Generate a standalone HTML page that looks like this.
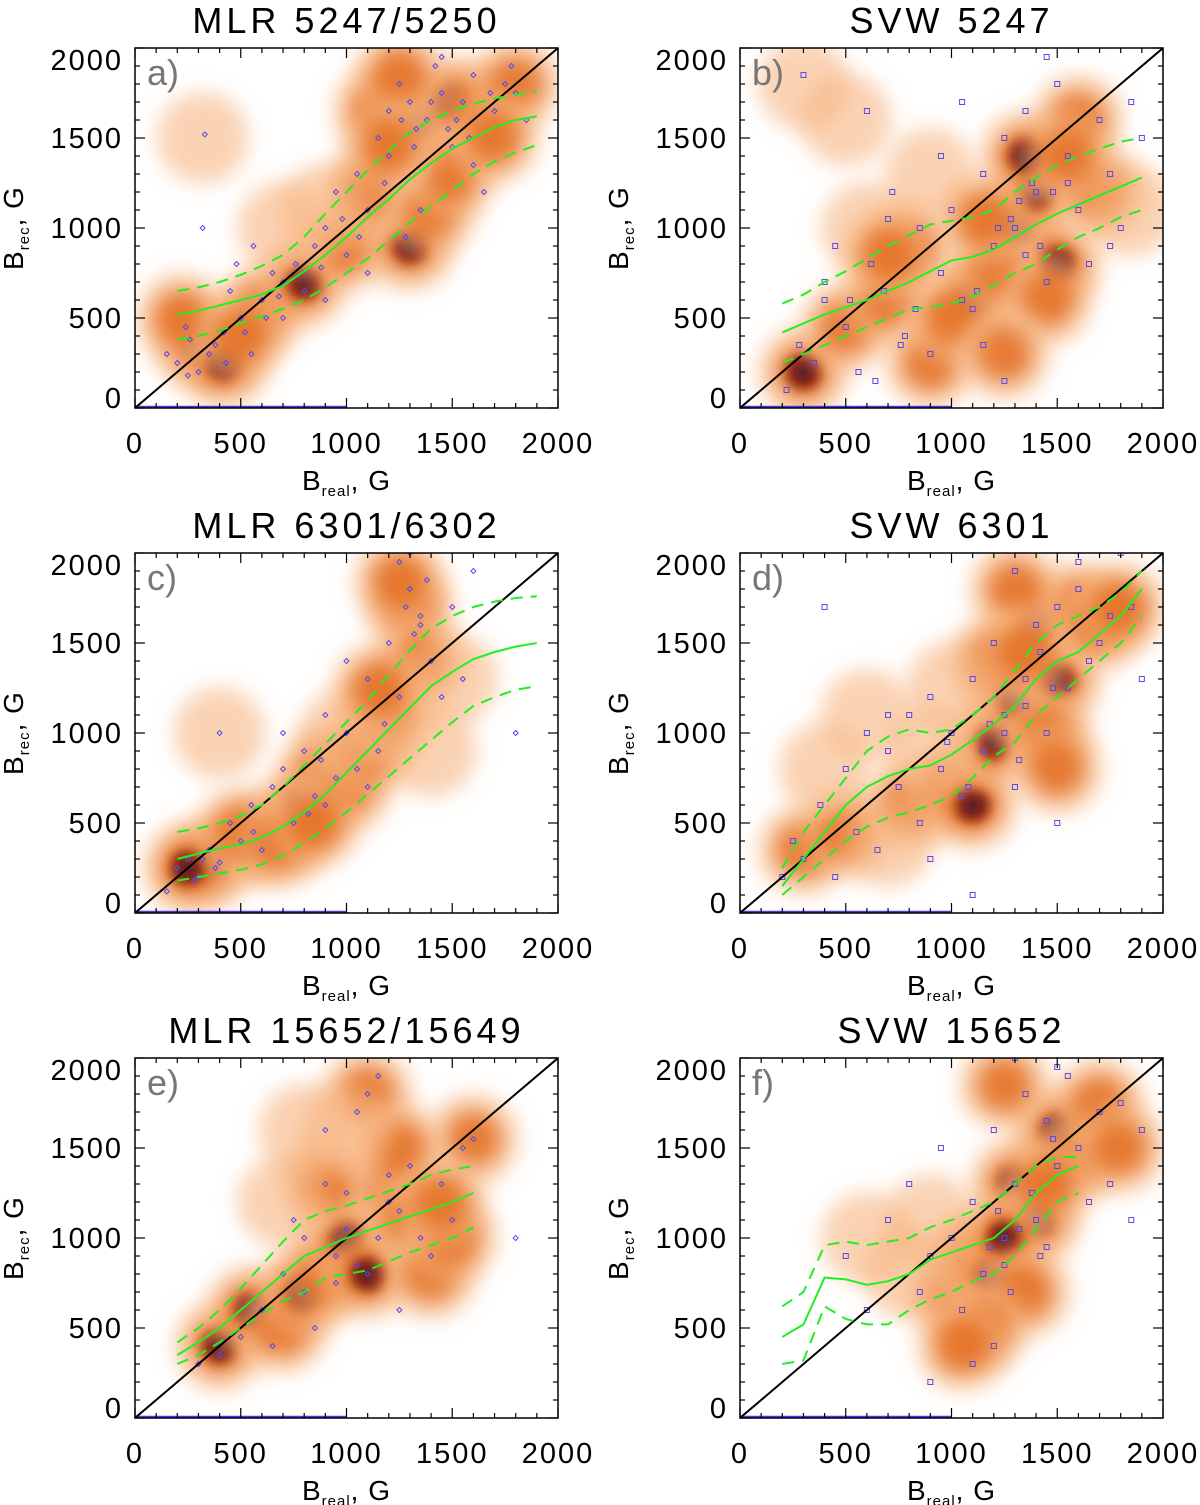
<!DOCTYPE html>
<html><head><meta charset="utf-8">
<style>
html,body{margin:0;padding:0;background:#fff;}
svg{display:block;font-family:"Liberation Sans",sans-serif;}
</style></head>
<body>
<svg id="chart" width="1200" height="1505" viewBox="0 0 1200 1505" xmlns="http://www.w3.org/2000/svg">
<defs>
<filter id="blur" x="-50%" y="-50%" width="200%" height="200%"><feGaussianBlur stdDeviation="10"/></filter>
<filter id="blur2" x="-50%" y="-50%" width="200%" height="200%"><feGaussianBlur stdDeviation="5"/></filter>
</defs>
</svg>
<script>
// ---- shared ----
const xsFull = [200,300,400,500,600,700,800,900,1000,1100,1200,1300,1400,1500,1600,1700,1800,1900];
const xsShort = [200,300,400,500,600,700,800,900,1000,1100,1200,1300,1400,1500,1600];
const tickVals = [0,500,1000,1500,2000];
const titles = ["MLR 5247/5250","SVW 5247","MLR 6301/6302","SVW 6301","MLR 15652/15649","SVW 15652"];
const letters = ["a)","b)","c)","d)","e)","f)"];

// ---- panel a ----
const medA = [520,540,570,600,630,680,760,850,950,1060,1160,1270,1360,1440,1500,1560,1600,1620];
const upA  = [650,670,700,740,790,850,950,1080,1200,1320,1430,1530,1600,1650,1690,1720,1740,1760];
const loA  = [380,400,430,470,510,550,600,670,750,830,930,1030,1120,1210,1300,1370,1420,1460];
const blobXA = [300,420,600,800,1000,1300,1350,1500,1150,1600,1800,320,1100,1400,700,220,1500,900,1250,500,1200,1700];
const blobYA = [350,250,550,700,900,900,1600,1700,1650,1650,1800,1500,1200,1100,1000,500,1300,1100,1850,400,1450,1500];
const blobWA = [3,3,2,3,2,3,3,3,2,2,2,1,2,2,1,2,2,1,2,2,2,2];
const ptXA = [150,200,240,260,300,330,380,420,450,500,550,600,650,700,760,800,850,900,950,1000,1050,1100,1150,1200,1250,1300,1330,1380,1420,1450,1500,1550,1600,1650,1700,1750,1800,1850,320,1200,1280,1350,1450,900,700,1600,1100,480,560,250,350,430,520,620,680,880,980,1060,1180,1260,1320,1400,1480,1520,1580,1680,1780];
const ptYA = [300,250,450,380,200,1520,350,420,650,500,300,600,750,700,800,650,900,1000,1200,850,1300,1100,1500,1650,1800,1700,1550,1600,1900,1750,1450,1700,1350,1200,1650,1800,1750,1600,1000,1400,950,1100,1950,600,500,1850,750,800,900,180,300,250,420,500,620,780,1050,950,1250,1600,1450,1700,1550,1600,1500,1750,1900];

// ---- panel b ----
const medB = [420,470,520,560,600,650,700,760,820,840,880,950,1020,1080,1130,1180,1230,1280];
const upB  = [580,630,700,760,830,900,960,1020,1040,1060,1100,1200,1280,1350,1400,1440,1480,1500];
const loB  = [250,300,350,400,450,500,550,560,580,620,680,750,800,880,950,1000,1060,1100];
const blobXB = [300,500,700,900,1100,1300,1400,1500,1600,1200,1350,1000,800,300,600,1700,1450,1850,1250,900,500,1550,1150,700];
const blobYB = [200,450,600,250,600,1000,1200,800,1600,750,1400,500,900,1800,1000,1200,600,1100,300,1300,1600,1400,1050,850];
const blobWB = [3,2,2,2,3,3,3,3,2,2,3,2,2,1,1,2,2,1,2,1,1,2,2,2];
const ptXB = [220,280,350,400,450,500,560,620,680,720,780,850,900,950,1000,1050,1100,1150,1200,1250,1300,1350,1400,1450,1500,1550,1600,1650,1700,1750,1800,1850,1900,300,600,950,1150,1350,1550,1250,700,1050,400,1450,1750,1320,1380,1420,1280,1480,1220,1120,830,760,520,640];
const ptYB = [100,350,250,600,900,450,200,800,650,1200,400,1000,300,750,1100,600,550,1300,900,1500,1000,1650,1200,700,1800,1400,1100,800,1600,1300,1000,1700,1500,1850,1650,1400,350,850,1250,150,1050,1700,700,1950,900,1150,1250,900,1050,1200,1000,650,550,350,600,150];

// ---- panel c ----
const medC = [300,330,360,380,420,480,560,660,780,900,1020,1140,1260,1340,1410,1450,1480,1500];
const upC  = [450,470,500,540,600,700,820,940,1060,1180,1320,1460,1580,1650,1700,1730,1750,1760];
const loC  = [180,200,220,240,270,320,390,470,560,660,760,860,960,1060,1150,1200,1240,1260];
const blobXC = [350,250,600,500,800,900,1000,1100,1300,1350,1200,1500,700,1400,1000,400,1250,850,1150];
const blobYC = [280,250,400,450,600,800,700,900,1700,1400,1100,1300,400,900,1000,1000,1850,500,1250];
const blobWC = [3,3,3,2,3,2,2,2,2,2,2,1,2,1,1,1,2,2,2];
const ptXC = [150,200,250,300,350,400,450,500,550,600,650,700,750,800,850,900,950,1000,1050,1100,1150,1200,1250,1300,1350,1400,1450,1500,1550,1600,1300,1250,1350,900,700,1100,400,1800,1000,320,380,280,560,820,880,1180,1280,1380,1320];
const ptYC = [120,250,300,200,350,280,500,400,600,350,700,800,500,900,650,1100,750,1000,800,1300,900,1500,1200,1800,1600,1400,1200,1700,1300,1900,2000,1950,1650,600,1000,700,1000,1000,1400,300,250,180,450,550,850,1050,1700,1850,1550];

// ---- panel d ----
const medD = [150,300,450,600,700,760,800,820,880,960,1050,1150,1300,1400,1450,1550,1650,1800];
const upD  = [250,450,600,750,900,980,1020,1000,1020,1100,1200,1350,1500,1600,1650,1700,1780,1900];
const loD  = [100,200,300,400,480,530,560,600,650,750,870,950,1100,1200,1300,1400,1500,1650];
const blobXD = [300,500,800,1000,1100,1200,1300,1400,1500,1600,1700,1300,1450,900,600,1200,1500,1800,1000,700,400,1350];
const blobYD = [350,450,600,700,600,950,1200,1600,1300,1700,1600,1800,1000,900,1100,1400,800,1700,1250,400,800,1450];
const blobWD = [2,2,2,2,3,3,3,3,3,2,2,2,2,1,1,2,2,2,1,1,1,2];
const ptXD = [200,250,300,380,450,500,550,600,650,700,750,800,850,900,950,1000,1050,1100,1150,1200,1250,1300,1350,1400,1450,1500,1550,1600,1650,1700,1750,1800,1850,1900,400,1300,1500,900,700,1100,1600,1250,1350,1420,1480,1320,1180,1080,980];
const ptYD = [200,400,300,600,200,800,450,1000,350,900,700,1100,500,1200,800,1000,650,1300,900,1500,1100,1900,1300,1600,1000,1700,1250,1800,1400,1500,1650,2000,1700,1300,1700,700,500,300,1100,100,1950,1000,1150,1450,1250,850,1050,700,950];

// ---- panel e ----
const medE = [350,420,500,600,700,800,900,950,1000,1040,1080,1120,1160,1200,1250];
const upE  = [420,500,600,720,850,980,1100,1150,1180,1220,1260,1300,1350,1380,1400];
const loE  = [300,350,420,500,580,650,700,780,800,820,870,920,960,1000,1060];
const blobXE = [400,550,700,800,900,1000,1100,1200,1300,1400,1500,1600,1100,900,800,1250,1450,1000,700];
const blobYE = [400,600,500,700,800,1000,800,1300,1100,800,1000,1550,1800,1300,1600,1500,1200,1600,1200];
const blobWE = [3,3,2,3,2,3,3,2,2,2,2,2,2,2,1,2,2,1,1];
const ptXE = [300,400,500,600,650,700,750,800,850,900,950,1000,1050,1100,1150,1200,1250,1300,1350,1400,1450,1500,1550,1600,1100,900,1200,800,1000,1800,1050,1150,1250,950];
const ptYE = [300,350,450,600,400,800,1100,700,500,1300,900,1050,1700,800,1900,1200,600,1400,1000,900,1300,1100,1500,1550,1800,1600,1350,1000,1250,1000,850,1000,1150,750];

// ---- panel f ----
const medF = [450,520,780,770,740,760,800,880,920,960,1000,1100,1250,1350,1400];
const upF  = [620,700,960,980,960,980,1000,1060,1100,1150,1200,1300,1400,1450,1450];
const loF  = [300,320,620,550,520,520,600,660,700,760,800,900,1050,1200,1250];
const blobXF = [1000,1100,1200,1300,1400,1500,1250,1350,1600,1700,1150,1450,900,800,1050,1800,600,1250];
const blobYF = [700,900,800,1300,1100,1600,1000,700,1450,1750,500,1300,1100,800,400,1500,1000,1850];
const blobWF = [2,2,3,3,3,3,3,2,2,2,2,2,1,1,2,2,1,2];
const ptXF = [500,600,700,800,850,900,950,1000,1050,1100,1150,1200,1250,1300,1350,1400,1450,1500,1550,1600,1650,1700,1750,1800,1850,1900,1300,1200,1100,1450,900,1500,1250,1320,1380,1420,1280,1220,1480,1180];
const ptYF = [900,600,1100,1300,700,900,1500,1000,600,1200,800,1600,1000,1300,1800,1100,1650,1400,1900,1500,1200,1700,1300,1750,1100,1600,2000,400,300,950,200,1950,850,1050,1250,900,700,1150,1550,950];

const panels = [
 {col:0,row:0,med:medA,up:upA,lo:loA,xs:xsFull,bx:blobXA,by:blobYA,bw:blobWA,px:ptXA,py:ptYA,mk:'d'},
 {col:1,row:0,med:medB,up:upB,lo:loB,xs:xsFull,bx:blobXB,by:blobYB,bw:blobWB,px:ptXB,py:ptYB,mk:'s'},
 {col:0,row:1,med:medC,up:upC,lo:loC,xs:xsFull,bx:blobXC,by:blobYC,bw:blobWC,px:ptXC,py:ptYC,mk:'d'},
 {col:1,row:1,med:medD,up:upD,lo:loD,xs:xsFull,bx:blobXD,by:blobYD,bw:blobWD,px:ptXD,py:ptYD,mk:'s'},
 {col:0,row:2,med:medE,up:upE,lo:loE,xs:xsShort,bx:blobXE,by:blobYE,bw:blobWE,px:ptXE,py:ptYE,mk:'d'},
 {col:1,row:2,med:medF,up:upF,lo:loF,xs:xsShort,bx:blobXF,by:blobYF,bw:blobWF,px:ptXF,py:ptYF,mk:'s'}
];

const NS = "http://www.w3.org/2000/svg";
const svg = document.getElementById('chart');
function mk(tag, attrs, parent){
  const e = document.createElementNS(NS, tag);
  for (const k in attrs) e.setAttribute(k, attrs[k]);
  (parent||svg).appendChild(e);
  return e;
}

panels.forEach((p, i) => {
  const L = p.col ? 740 : 135, W = 423;
  const T = 48 + p.row * 505, H = 360;
  const X = v => L + v / 2000 * W;
  const Y = v => T + H - v / 2000 * H;
  const g = mk('g', {});
  
  
  const clipId = 'clip' + i;
  const cp = mk('clipPath', {id: clipId}, g);
  mk('rect', {x: L, y: T, width: W, height: H}, cp);
  const plot = mk('g', {'clip-path': 'url(#' + clipId + ')'}, g);

  // density
  const dens = mk('g', {}, plot);
  
  
  p.bx.forEach((bx, j) => {
    const w = p.bw[j];
    const c1 = mk('circle', {cx: X(bx), cy: Y(p.by[j]), r: 46, fill: '#f7b682', 'fill-opacity': 0.6, filter: 'url(#blur)'}, dens);
    
    
    if (w >= 2) mk('circle', {cx: X(bx), cy: Y(p.by[j]), r: 28, fill: '#e36d1c', 'fill-opacity': 0.85, filter: 'url(#blur)'}, dens);
    if (w >= 3) {
      mk('circle', {cx: X(bx), cy: Y(p.by[j]), r: 18, fill: '#8a2410', 'fill-opacity': 0.9, filter: 'url(#blur2)'}, dens);
      mk('circle', {cx: X(bx), cy: Y(p.by[j]), r: 8, fill: '#3c0a3a', 'fill-opacity': 0.8, filter: 'url(#blur2)'}, dens);
    }
  });

  // points
  const pts = mk('g', {}, plot);
  
  
  p.px.forEach((vx, j) => {
    const cx = X(vx), cy = Y(p.py[j]);
    let m;
    if (p.mk === 'd') m = mk('path', {d: `M${cx},${cy-2.5}L${cx+2.5},${cy}L${cx},${cy+2.5}L${cx-2.5},${cy}Z`, fill: 'none', stroke: '#5a4ae6', 'stroke-width': 1}, pts);
    else m = mk('rect', {x: cx-2.5, y: cy-2.5, width: 5, height: 5, fill: 'none', stroke: '#5a4ae6', 'stroke-width': 1}, pts);
    
    
  });
  const base = mk('line', {x1: X(0), y1: Y(0)-1, x2: X(1000), y2: Y(0)-1, stroke: '#4a3ae6', 'stroke-width': 2.5}, plot);
  
  

  // diagonal
  const diag = mk('line', {x1: X(0), y1: Y(0), x2: X(2000), y2: Y(2000), stroke: '#000', 'stroke-width': 2}, plot);
  
  

  // green lines
  [[p.med,'none','median-line'],[p.up,'12,8','upper-quartile-line'],[p.lo,'12,8','lower-quartile-line']].forEach(([arr,dash,name]) => {
    const d = arr.map((v,j) => (j?'L':'M') + X(p.xs[j]).toFixed(1) + ',' + Y(v).toFixed(1)).join('');
    const pl = mk('path', {d: d, fill: 'none', stroke: '#22ee22', 'stroke-width': 2, 'stroke-dasharray': dash}, plot);
    
    
  });

  // frame
  const fr = mk('rect', {x: L, y: T, width: W, height: H, fill: 'none', stroke: '#000', 'stroke-width': 1.5}, g);
  
  
  // ticks
  for (let v = 0; v <= 2000; v += 100) {
    const len = v % 500 === 0 ? 10 : 5;
    mk('line', {x1: X(v), y1: T+H, x2: X(v), y2: T+H-len, stroke: '#000', 'stroke-width': 1.2}, g);
    mk('line', {x1: X(v), y1: T, x2: X(v), y2: T+len, stroke: '#000', 'stroke-width': 1.2}, g);
    mk('line', {x1: L, y1: Y(v), x2: L+len, y2: Y(v), stroke: '#000', 'stroke-width': 1.2}, g);
    mk('line', {x1: L+W, y1: Y(v), x2: L+W-len, y2: Y(v), stroke: '#000', 'stroke-width': 1.2}, g);
  }
  tickVals.forEach(v => {
    const tx = mk('text', {x: X(v), y: T+H+45, 'font-size': 29, 'text-anchor': 'middle', fill: '#000', 'letter-spacing': 2}, g);
    tx.textContent = v;
    
    
    const ty = mk('text', {x: L-12, y: Y(v) + 10 - (v===0?10:0) + (v===2000?12:0), 'font-size': 29, 'text-anchor': 'end', fill: '#000', 'letter-spacing': 2}, g);
    ty.textContent = v;
    
    
  });
  // title
  const tt = mk('text', {x: L + W/2, y: T - 15, 'font-size': 36, 'text-anchor': 'middle', fill: '#000', 'letter-spacing': 4}, g);
  tt.textContent = titles[i];
  
  
  // letter
  const lt = mk('text', {x: L + 12, y: T + 37, 'font-size': 36, fill: '#777'}, g);
  lt.textContent = letters[i];
  
  
  // x label
  const xl = mk('text', {x: L + W/2, y: T + H + 82, 'font-size': 28, 'text-anchor': 'middle', fill: '#000', 'letter-spacing': 1}, g);
  xl.innerHTML = 'B<tspan font-size="15" dy="6">real</tspan><tspan dy="-6">,  G</tspan>';
  
  
  // y label
  const yl = mk('text', {x: 0, y: 0, 'font-size': 28, 'text-anchor': 'middle', fill: '#000', 'letter-spacing': 1, transform: `translate(${L-112},${T+H/2}) rotate(-90)`}, g);
  yl.innerHTML = 'B<tspan font-size="15" dy="6">rec</tspan><tspan dy="-6">,  G</tspan>';
  
  
});
</script>
</body></html>
